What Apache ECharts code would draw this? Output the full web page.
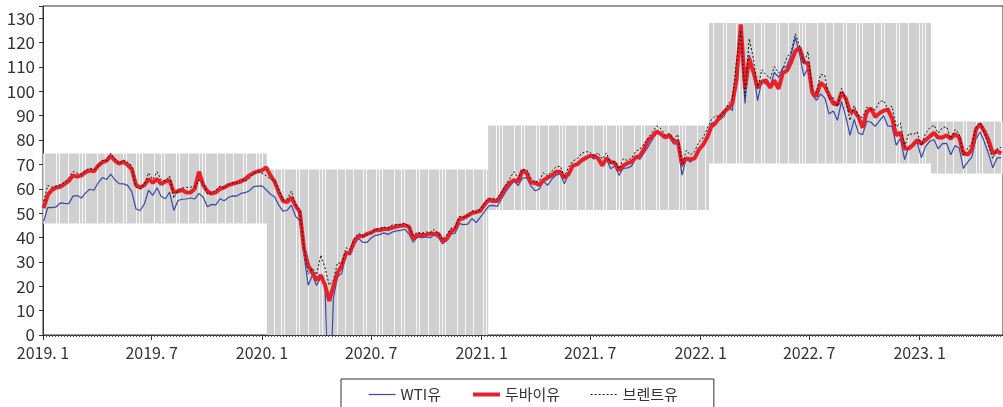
<!DOCTYPE html>
<html>
<head>
<meta charset="utf-8">
<script src="https://cdn.jsdelivr.net/npm/echarts@6/dist/echarts.min.js"></script>
<style>
  html, body { margin: 0; padding: 0; background: #fff; }
  #chart { width: 1003px; height: 407px; }
</style>
</head>
<body>
<div id="chart"></div>
<script>
// weekly readings, first week 2019-01-02, one value per week
const firstWeek = [2019, 1, 2]
const dubai = [
  52, 57.5, 59.5, 60.5, 60.8, 62, 63.2, 65.5, 65, 65.5, 66.8, 67.5, 67.2, 69.5, 70.8, 71.5, 73.5, 71.5, 70.3, 71, 69.8, 68, 61.5, 60.5, 61.5, 64,
  62.5, 64, 62, 63, 63.5, 58.5, 59, 59.5, 58.5, 58.5, 60, 67, 61.5, 59, 58, 58.5, 60, 60.5, 61.5, 62, 62.5, 63, 64, 65.5, 66.5, 67.2,
  67.5, 68.8, 65.5, 63, 58.5, 55, 54.5, 56.5, 53, 50.5, 35.5, 28.5, 25.5, 22.5, 24.5, 20.5, 14, 20, 25.5, 28.5, 33.5, 34, 38.5, 40.5, 40.5, 41.5,
  42, 43, 43, 43.5, 43.5, 44, 44.5, 44.8, 45, 44.5, 39.5, 41, 41, 41, 41.5, 41.5, 41.5, 38.5, 39.5, 42.5, 43.5, 47.5, 48, 49, 50, 50.5, 51,
  53.5, 55.5, 55, 55, 57.5, 60.5, 62.5, 63.5, 63, 67.5, 66.5, 62.5, 62.5, 61.5, 63.5, 64.5, 65.5, 67, 67, 64.5, 66, 69.5, 70, 71.5, 72.5, 73.5,
  73.5, 72.5, 69.5, 72.5, 71, 70.5, 67.5, 69.5, 70.5, 71, 73, 73.5, 76.5, 80, 81.5, 83.5, 82.5, 81, 82, 79.5, 79.5, 70, 72.5, 72, 72.5, 76,
  78, 81, 85.5, 87, 89.5, 91.5, 93, 95, 105, 127.5, 101, 113.5, 108, 101.5, 104, 104.5, 101.5, 104.5, 101, 107.5, 108.5, 112, 116.5, 118, 112, 111.5,
  99.5, 98, 103.5, 102, 98.5, 95, 94.5, 99.5, 97, 91.5, 92, 89.5, 85, 91.5, 93, 89.5, 91, 92, 92.5, 89, 82, 83, 76.5, 76.5, 78, 80,
  78.5, 80, 81.5, 83, 81, 81, 82, 80.5, 82.5, 81, 74.5, 74, 76, 84.5, 86.5, 83.5, 80, 74.5, 75.5, 74.5
]
const wti = [
  46.5, 52.4, 52.3, 52.6, 54.2, 54, 53.9, 57, 57.2, 56.2, 58.3, 59.8, 59.4, 62.5, 64.6, 63.8, 66, 63.6, 62.1, 62, 61.4, 58.8, 51.7, 51.1, 53.8, 59.4,
  57.3, 60.4, 56.8, 55.9, 58.6, 51.1, 55.2, 55.7, 55.8, 56.2, 55.8, 58.1, 56.5, 52.6, 53.6, 53.4, 55.9, 55.1, 56.4, 57.1, 57, 58.1, 58.4, 59.2, 60.9, 61.1,
  61.2, 59.6, 57.8, 56.7, 53.3, 50.8, 51.2, 53.3, 48.7, 46.8, 32.9, 20.4, 24.5, 20.3, 23.6, 19.9, -37.6, 15.1, 24, 25.3, 33.5, 32.8, 37.3, 39.6, 38, 38,
  39.8, 40.9, 41.2, 41.9, 41.3, 42.2, 42.7, 42.9, 43.4, 41.5, 38.1, 40.2, 39.9, 40.2, 39.9, 41, 40, 37.4, 38.8, 41.5, 41.8, 45.7, 45.3, 45.5, 47.8, 46.1, 48.4,
  50.6, 53, 53.2, 52.8, 55.7, 58.7, 61.1, 63.2, 61.3, 64.4, 64.6, 61.2, 59.2, 59.8, 63.2, 61.4, 63.9, 65.6, 66.1, 62.1, 66.2, 68.8, 70, 72.2, 73.1, 73.5,
  72.2, 73.1, 70.3, 72.4, 68.2, 69.3, 65.5, 68.4, 68.6, 69.3, 72.6, 72.2, 74.8, 77.4, 80.4, 83.9, 82.7, 80.9, 81.3, 78.4, 78.4, 65.6, 72.4, 70.9, 72.8, 76.6,
  77.9, 82.6, 87, 87.4, 88.3, 89.7, 93.7, 92.1, 110.6, 121, 95, 114.9, 107.8, 96.2, 104.3, 102.8, 102, 107.8, 105.7, 109.6, 110.3, 115.3, 122.1, 115.3, 106.2, 109.8,
  98.5, 96.3, 98.9, 97.3, 90.7, 91.9, 88.1, 95.9, 89.6, 81.9, 88.5, 82.9, 82.2, 87.8, 87.3, 85.6, 87.9, 90, 85.8, 85.6, 77.9, 80.6, 72, 77.3, 78.3, 79,
  72.8, 77.4, 79.5, 80.1, 76.4, 78.5, 78.6, 73.95, 77.7, 76.7, 68.4, 70.9, 72.97, 80.6, 83.3, 79.2, 74.3, 68.6, 72.6, 72.8
]
const brent = [
  54.9, 61.4, 60.6, 61.1, 61.7, 62.7, 64.6, 67.1, 66.4, 66, 67.6, 68.5, 67.8, 69.3, 71.7, 71.6, 74.6, 72.2, 70.4, 71.8, 70.9, 69.5, 60.6, 59.9, 61.8, 66.5,
  63.8, 67, 63.7, 63.2, 65.2, 56.2, 59.5, 60.3, 60.5, 60.7, 60.8, 63.6, 62.4, 57.7, 58.3, 59.4, 61.2, 60.2, 61.7, 62.4, 62.4, 64.1, 63, 64.3, 66.2, 67.2,
  66.3, 65.4, 64, 63.2, 59.8, 55.3, 55.8, 59.1, 53.4, 51.1, 35.8, 24.9, 27.4, 24.7, 32.8, 27.7, 20.4, 22.5, 29.7, 29.2, 35.8, 35, 39.8, 41.7, 40.7, 41,
  42, 43.3, 43.8, 44.3, 43.8, 45.2, 45.4, 45.4, 45.9, 44.4, 40.8, 42.2, 41.7, 42.3, 42, 43.3, 41.7, 39.1, 41.2, 43.8, 44.3, 48.6, 48.3, 48.9, 51.1, 50.1, 51.6,
  54.3, 56.1, 56.1, 55.8, 58.5, 61.5, 64.3, 67, 64.1, 67.9, 68, 64.4, 62.7, 63.2, 66.6, 65.3, 67.3, 68.96, 69.3, 65.1, 68.9, 71.4, 72.2, 74.4, 75.2, 75.1,
  73.4, 74.8, 72.2, 74.7, 70.4, 71.4, 68.2, 72.3, 71.6, 72.6, 75.5, 76.2, 78.6, 81.1, 83.2, 85.8, 84.6, 81.99, 82.6, 80.3, 82.3, 68.9, 75.8, 73.9, 75.3, 79.2,
  80.8, 84.7, 88.4, 89.96, 89.5, 91.6, 94.8, 96.8, 112.9, 125, 98, 121.6, 113.5, 101.1, 108.8, 106.8, 105.3, 110.1, 107.5, 109.1, 114, 116.3, 123.6, 118.5, 111.7, 116.3,
  100.7, 99.6, 106.9, 106.6, 96.8, 97.4, 93.7, 101.2, 96.5, 88, 94.1, 89.8, 89.3, 93.4, 92.5, 92.4, 95.7, 96.2, 92.7, 93.9, 85.4, 86.97, 77.2, 82.7, 82.2, 83.3,
  77.8, 82.7, 84.98, 86.1, 82.8, 85.1, 85.4, 80.6, 84.3, 82.7, 73.7, 76.7, 78.3, 84.99, 87.3, 83.1, 77.7, 72.3, 76.4, 76.96
]

// yearly high-low bands (grey blocks)
const bandStart = ['2019-01-01', '2020-01-09', '2021-01-12', '2022-01-15', '2023-01-20']
const bandEnd = ['2020-01-09', '2021-01-12', '2022-01-15', '2023-01-20', '2023-05-20']
const bandLow = [45.8, 0, 51.3, 70.4, 66.3]
const bandHigh = [74.5, 67.9, 86, 128, 87.6]

const FONT = "'Noto Sans CJK KR', 'Noto Sans', sans-serif"

function pad(n) { return n < 10 ? '0' + n : '' + n }
const weeks = []
for (let i = 0; i < dubai.length; i++) {
  const d = new Date(firstWeek[0], firstWeek[1] - 1, firstWeek[2] + i * 7)
  weeks.push(d.getFullYear() + '-' + pad(d.getMonth() + 1) + '-' + pad(d.getDate()))
}
const pairs = (vals) => vals.map((v, i) => [weeks[i], v])
const ts = (s) => echarts.number.parseDate(s).getTime()

// light gaps inside the grey blocks
const stripe = document.createElement('canvas')
stripe.width = 120
stripe.height = 4
const sctx = stripe.getContext('2d')
sctx.fillStyle = '#d0d0d0'
sctx.fillRect(0, 0, 120, 4)
sctx.fillStyle = '#f7f7f7'
;[3, 6, 16, 19, 22, 34, 41, 44, 56, 59, 68, 79, 82, 85, 97, 105, 113].forEach((x) => {
  sctx.fillRect(x, 0, 1, 4)
})

const bandData = bandStart.map((s, i) => [ts(s), ts(bandEnd[i]), bandLow[i], bandHigh[i]])

const myChart = echarts.init(document.getElementById('chart'))
const option = {
  animation: false,
  backgroundColor: '#fff',
  grid: {
    left: 43,
    right: -1,
    top: 6,
    bottom: 72,
    show: true,
    borderColor: '#333',
    borderWidth: 1,
  },
  legend: {
    left: 341,
    top: 379,
    padding: [8, 36, 20, 27],
    itemGap: 30,
    itemWidth: 27,
    itemHeight: 14,
    borderColor: '#333',
    borderWidth: 1,
    itemStyle: { opacity: 0 },
    lineStyle: { width: 'inherit' },
    textStyle: { fontFamily: FONT, fontSize: 15, color: '#333' },
    data: ['WTI유', '두바이유', '브렌트유'],
  },
  xAxis: {
    type: 'time',
    min: '2019-01-01',
    max: '2023-05-20',
    minInterval: 180 * 86400000,
    maxInterval: 185 * 86400000,
    axisLine: { lineStyle: { color: '#333', width: 1 } },
    axisTick: { show: true, length: 5, lineStyle: { color: '#333' } },
    minorTick: { show: true, splitNumber: 36, length: 2, lineStyle: { color: '#555' } },
    splitLine: { show: false },
    axisLabel: {
      fontFamily: FONT,
      fontSize: 16,
      color: '#333',
      margin: 10,
      formatter: (value) => {
        const d = new Date(value)
        if (d.getDate() !== 1 || (d.getMonth() !== 0 && d.getMonth() !== 6)) return ''
        return d.getFullYear() + '. ' + (d.getMonth() + 1)
      },
    },
  },
  yAxis: {
    type: 'value',
    min: 0,
    max: 135,
    interval: 10,
    axisLine: { show: true, lineStyle: { color: '#333', width: 1 } },
    axisTick: { show: true, length: 4, lineStyle: { color: '#333' } },
    splitLine: { show: false },
    axisLabel: {
      fontFamily: FONT,
      fontSize: 17,
      color: '#333',
      margin: 8,
      formatter: (v) => (v % 10 === 0 ? v : ''),
    },
  },
  series: [
    {
      type: 'custom',
      name: 'band',
      silent: true,
      z: 1,
      encode: { x: [0, 1], y: [2, 3] },
      data: bandData,
      renderItem: (params, api) => {
        const p1 = api.coord([api.value(0), api.value(3)])
        const p2 = api.coord([api.value(1), api.value(2)])
        return {
          type: 'rect',
          shape: { x: p1[0], y: p1[1], width: p2[0] - p1[0], height: p2[1] - p1[1] },
          style: { fill: { image: stripe, repeat: 'repeat' } },
        }
      },
    },
    {
      name: 'WTI유',
      type: 'line',
      z: 3,
      symbol: 'none',
      data: pairs(wti),
      itemStyle: { color: '#3848a8' },
      lineStyle: { color: '#3848a8', width: 1.2 },
    },
    {
      name: '두바이유',
      type: 'line',
      z: 4,
      symbol: 'none',
      data: pairs(dubai),
      itemStyle: { color: '#e8202a' },
      lineStyle: { color: '#e8202a', width: 4 },
    },
    {
      name: '브렌트유',
      type: 'line',
      z: 5,
      symbol: 'none',
      data: pairs(brent),
      itemStyle: { color: '#111' },
      lineStyle: { color: '#111', width: 1, type: [2, 2] },
    },
  ],
}
myChart.setOption(option)
</script>
</body>
</html>
